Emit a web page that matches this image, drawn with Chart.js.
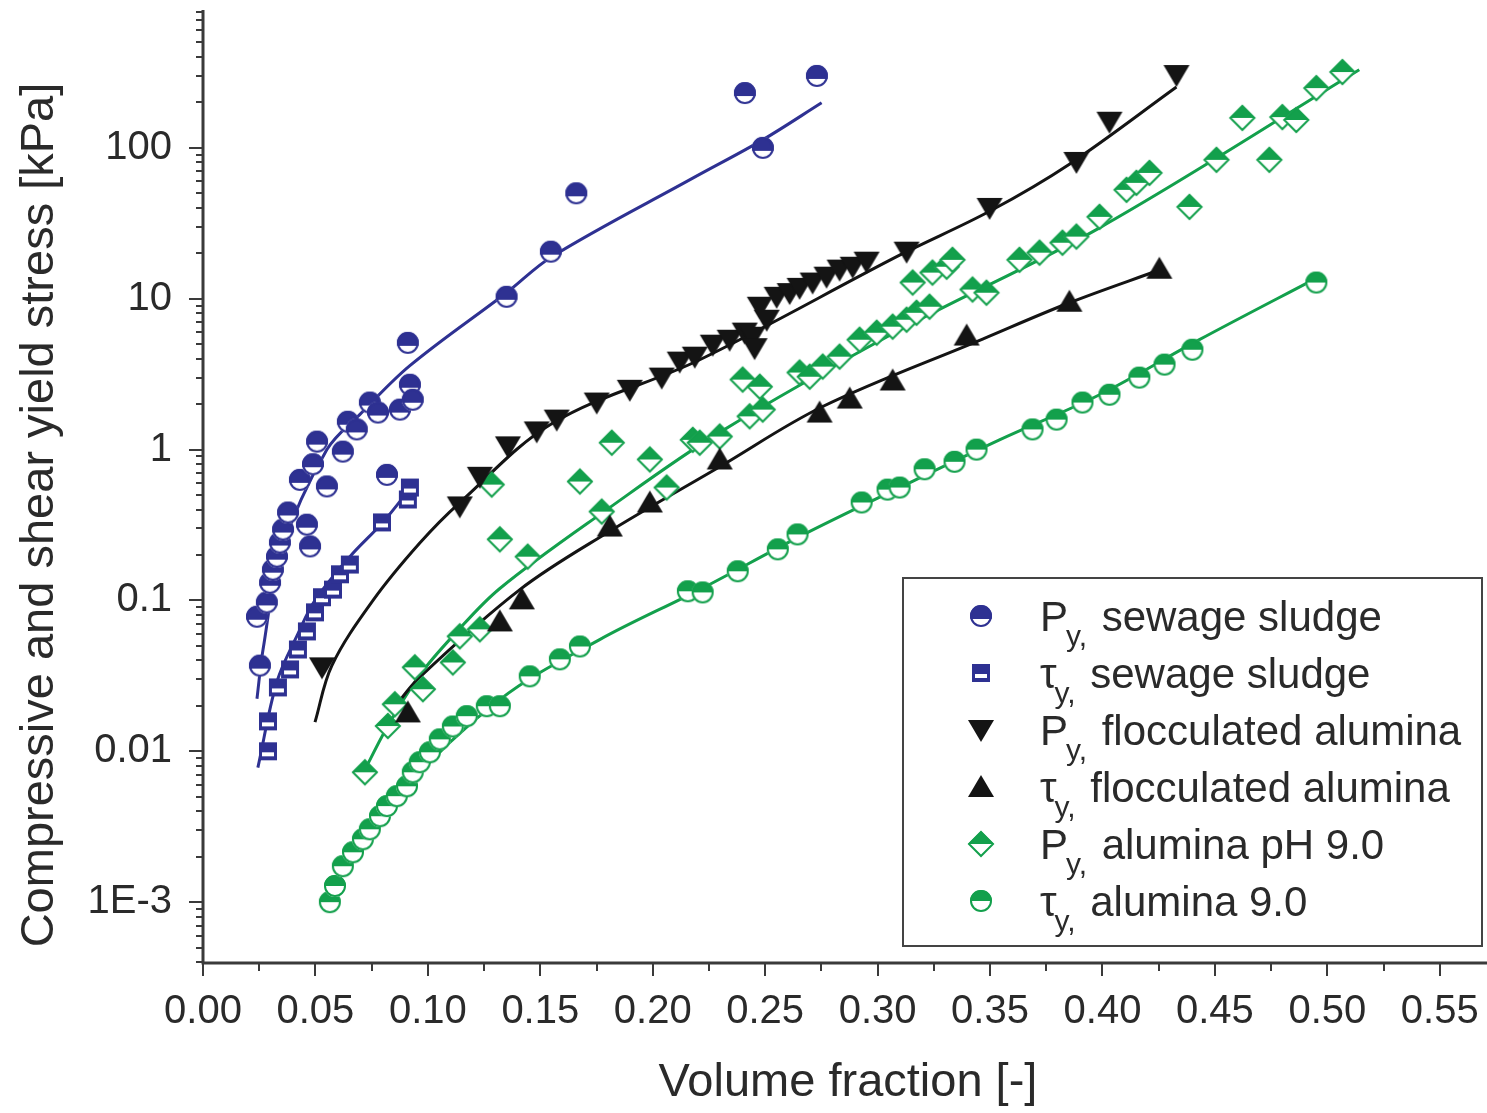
<!DOCTYPE html>
<html lang="en">
<head>
<meta charset="UTF-8">
<title>Compressive and shear yield stress vs volume fraction</title>
<script src="https://cdn.jsdelivr.net/npm/chart.js"></script>
<style>
  html, body { margin: 0; padding: 0; background: #fff; }
  #wrap { width: 1487px; height: 1113px; }
</style>
</head>
<body>
<div id="wrap"><canvas id="chart" width="1487" height="1113"></canvas></div>
<script>
// ---- axis ticks ----
const xTicks = [0, 0.05, 0.10, 0.15, 0.20, 0.25, 0.30, 0.35, 0.40, 0.45, 0.50, 0.55];
const xMinorTicks = [0.025, 0.075, 0.125, 0.175, 0.225, 0.275, 0.325, 0.375, 0.425, 0.475, 0.525];
const yTicks = [0.001, 0.01, 0.1, 1, 10, 100];
const yTickLabels = ['1E-3', '0.01', '0.1', '1', '10', '100'];

// ---- P_y sewage sludge ----
const pySludgeX = [0.024, 0.0253, 0.0284, 0.0298, 0.0311, 0.0329, 0.0342, 0.0356, 0.0378, 0.0431, 0.0462, 0.0476, 0.0489, 0.0507, 0.0551, 0.0622, 0.0644, 0.0684, 0.0742, 0.0778, 0.0818, 0.0876, 0.0911, 0.092, 0.0933, 0.135, 0.1547, 0.166, 0.241, 0.249, 0.273];
const pySludgeY = [0.078, 0.037, 0.097, 0.131, 0.16, 0.195, 0.242, 0.295, 0.383, 0.63, 0.318, 0.228, 0.80, 1.13, 0.57, 0.97, 1.53, 1.36, 2.05, 1.76, 0.68, 1.84, 5.1, 2.69, 2.14, 10.3, 20.5, 50, 231, 100, 300];
const pySludgeFitX = [0.024, 0.0267, 0.0351, 0.0551, 0.0698, 0.092, 0.1351, 0.1551, 0.2178, 0.2489, 0.2751];
const pySludgeFitY = [0.0223, 0.0473, 0.218, 1.0, 1.71, 3.6, 11.0, 19.0, 63, 113, 199];

// ---- tau_y sewage sludge ----
const tauSludgeX = [0.0289, 0.0289, 0.0333, 0.0387, 0.0422, 0.0462, 0.0498, 0.0529, 0.0578, 0.0609, 0.0653, 0.0796, 0.0911, 0.092];
const tauSludgeY = [0.0100, 0.0158, 0.0265, 0.0349, 0.0473, 0.0623, 0.0834, 0.105, 0.118, 0.149, 0.173, 0.329, 0.467, 0.56];
const tauSludgeFitX = [0.0244, 0.0329, 0.0422, 0.0498, 0.0653, 0.08, 0.092];
const tauSludgeFitY = [0.0078, 0.029, 0.06, 0.10, 0.195, 0.33, 0.55];

// ---- P_y flocculated alumina ----
const pyFlocX = [0.0529, 0.1142, 0.1231, 0.1356, 0.1484, 0.1573, 0.1751, 0.1898, 0.204, 0.212, 0.2187, 0.2267, 0.2342, 0.2409, 0.2444, 0.2453, 0.2476, 0.2507, 0.2551, 0.2609, 0.2653, 0.2711, 0.2773, 0.2831, 0.2889, 0.2951, 0.3129, 0.3498, 0.3884, 0.4031, 0.4329];
const pyFlocY = [0.036, 0.42, 0.66, 1.05, 1.32, 1.58, 2.05, 2.49, 3.0, 3.83, 4.13, 4.96, 5.35, 5.96, 5.6, 4.7, 8.85, 7.26, 10.3, 10.9, 11.8, 12.8, 14.0, 15.6, 16.3, 17.6, 20.5, 40, 80.7, 149, 304];
const pyFlocFitX = [0.0498, 0.0573, 0.0756, 0.0964, 0.1142, 0.1556, 0.2209, 0.31, 0.3498, 0.3853, 0.4329];
const pyFlocFitY = [0.0156, 0.037, 0.10, 0.24, 0.445, 1.5, 3.94, 19.5, 38, 78, 253];

// ---- tau_y flocculated alumina ----
const tauFlocX = [0.0911, 0.132, 0.1418, 0.1809, 0.1987, 0.2298, 0.2742, 0.2876, 0.3067, 0.3396, 0.3853, 0.4253];
const tauFlocY = [0.0181, 0.0726, 0.1017, 0.309, 0.446, 0.86, 1.76, 2.18, 2.87, 5.7, 9.55, 15.8];
const tauFlocFitX = [0.0844, 0.0964, 0.1409, 0.1796, 0.2298, 0.2756, 0.3467, 0.3853, 0.4253];
const tauFlocFitY = [0.019, 0.031, 0.118, 0.28, 0.77, 1.93, 5.4, 9.4, 15.5];

// ---- P_y alumina pH 9.0 ----
const pyAluX = [0.072, 0.0822, 0.0853, 0.0942, 0.0978, 0.1111, 0.1142, 0.1231, 0.1284, 0.132, 0.1444, 0.1676, 0.1773, 0.1818, 0.1987, 0.2062, 0.2178, 0.2209, 0.2298, 0.24, 0.2431, 0.2476, 0.2489, 0.2653, 0.2698, 0.2756, 0.2831, 0.292, 0.2996, 0.3067, 0.3129, 0.3173, 0.3231, 0.3156, 0.3244, 0.3307, 0.3333, 0.3422, 0.3484, 0.3631, 0.372, 0.3822, 0.3884, 0.3987, 0.4107, 0.4151, 0.4209, 0.4387, 0.4507, 0.4622, 0.4742, 0.48, 0.4862, 0.4951, 0.5067];
const pyAluY = [0.00726, 0.0147, 0.0205, 0.036, 0.0258, 0.0388, 0.0578, 0.0643, 0.586, 0.254, 0.195, 0.614, 0.388, 1.11, 0.86, 0.56, 1.16, 1.11, 1.22, 2.91, 1.66, 2.61, 1.84, 3.24, 3.04, 3.55, 4.13, 5.35, 5.95, 6.53, 7.26, 8.07, 8.85, 12.8, 14.9, 16.3, 18.1, 11.5, 10.96, 18.1, 20.2, 23.5, 25.8, 34.9, 52.7, 58.6, 68.2, 40.6, 83.3, 158, 83.3, 160, 153, 249, 318];
const pyAluFitX = [0.0698, 0.0818, 0.0964, 0.1111, 0.132, 0.1796, 0.2298, 0.3098, 0.3987, 0.5142];
const pyAluFitY = [0.0065, 0.0144, 0.032, 0.058, 0.12, 0.40, 1.30, 6.2, 29.5, 329];

// ---- tau_y alumina 9.0 ----
const tauAluX = [0.0564, 0.0587, 0.0622, 0.0667, 0.0711, 0.0742, 0.0787, 0.0818, 0.0862, 0.0907, 0.0933, 0.0964, 0.1009, 0.1053, 0.1111, 0.1173, 0.1262, 0.132, 0.1453, 0.1587, 0.1676, 0.2156, 0.2222, 0.2378, 0.2556, 0.2644, 0.2929, 0.3044, 0.3098, 0.3209, 0.3342, 0.344, 0.3689, 0.3796, 0.3911, 0.4031, 0.4164, 0.4276, 0.44, 0.4951];
const tauAluY = [0.0010, 0.00128, 0.00173, 0.00214, 0.00261, 0.00304, 0.00371, 0.00433, 0.00504, 0.00586, 0.00726, 0.00846, 0.00985, 0.012, 0.0146, 0.0171, 0.0199, 0.0199, 0.0314, 0.0407, 0.0495, 0.115, 0.113, 0.156, 0.218, 0.274, 0.446, 0.543, 0.56, 0.74, 0.83, 1.0, 1.36, 1.58, 2.05, 2.31, 3.0, 3.66, 4.59, 12.8];
const tauAluFitX = [0.0542, 0.0876, 0.132, 0.1764, 0.2209, 0.2653, 0.3098, 0.3542, 0.3987, 0.4431, 0.4956];
const tauAluFitY = [0.00105, 0.0052, 0.022, 0.055, 0.118, 0.265, 0.56, 1.16, 2.31, 5.35, 13.8];

// colours / fonts
const BLUE = '#2e3192';
const BLACK = '#141414';
const GREEN = '#13a04c';
const TEXT = '#2a2a2a';
const AXIS = '#3a3a3a';
const FONT = '"Liberation Sans", Arial, sans-serif';

// marker images
function marker(kind, color) {
    const c = document.createElement('canvas');
    c.width = 30; c.height = 30;
    const g = c.getContext('2d');
    const m = 15;
    g.lineWidth = 2;
    g.strokeStyle = color;
    g.fillStyle = color;
    if (kind === 'circle' || kind === 'hex') {
        const r = 11;
        const cut = kind === 'circle' ? m + 3 : m;
        g.fillStyle = '#fff';
        g.beginPath(); g.arc(m, m, r, 0, Math.PI * 2); g.fill();
        g.save();
        g.beginPath(); g.rect(0, 0, 30, cut); g.clip();
        g.fillStyle = color;
        g.beginPath(); g.arc(m, m, r, 0, Math.PI * 2); g.fill();
        g.restore();
        g.beginPath(); g.arc(m, m, r - 1, 0, Math.PI * 2); g.stroke();
    } else if (kind === 'square') {
        g.fillRect(m - 9, m - 9, 18, 18);
        g.fillStyle = '#fff';
        g.fillRect(m - 6, m + 1, 12, 4);
    } else if (kind === 'down') {
        g.beginPath(); g.moveTo(m - 13, m - 10); g.lineTo(m + 13, m - 10); g.lineTo(m, m + 12); g.closePath(); g.fill();
    } else if (kind === 'up') {
        g.beginPath(); g.moveTo(m - 13, m + 10); g.lineTo(m + 13, m + 10); g.lineTo(m, m - 12); g.closePath(); g.fill();
    } else if (kind === 'diamond') {
        g.fillStyle = '#fff';
        g.beginPath(); g.moveTo(m, m - 13); g.lineTo(m + 13, m); g.lineTo(m, m + 13); g.lineTo(m - 13, m); g.closePath(); g.fill();
        g.fillStyle = color;
        g.beginPath(); g.moveTo(m, m - 13); g.lineTo(m + 13, m); g.lineTo(m - 13, m); g.closePath(); g.fill();
        g.beginPath(); g.moveTo(m, m - 12); g.lineTo(m + 12, m); g.lineTo(m, m + 12); g.lineTo(m - 12, m); g.closePath(); g.stroke();
    }
    return c;
}

const mCircle = marker('circle', BLUE);
const mSquare = marker('square', BLUE);
const mDown = marker('down', BLACK);
const mUp = marker('up', BLACK);
const mDiamond = marker('diamond', GREEN);
const mHex = marker('hex', GREEN);

function pts(xs, ys) {
    return xs.map((x, i) => ({ x: x, y: ys[i] }));
}

function fitSet(xs, ys, color) {
    return {
        data: pts(xs, ys),
        showLine: true,
        borderColor: color,
        borderWidth: 3,
        pointRadius: 0,
        tension: 0.35,
        fill: false,
        order: 2
    };
}

function markSet(xs, ys, img) {
    return {
        data: pts(xs, ys),
        showLine: false,
        pointStyle: img,
        pointRadius: 11,
        order: 1
    };
}

// legend rows: marker, main symbol, rest of text
const legendRows = [
    [mCircle, 'P', ' sewage sludge'],
    [mSquare, '\u03c4', ' sewage sludge'],
    [mDown, 'P', ' flocculated alumina'],
    [mUp, '\u03c4', ' flocculated alumina'],
    [mDiamond, 'P', ' alumina pH 9.0'],
    [mHex, '\u03c4', ' alumina 9.0']
];

const framePlugin = {
    id: 'frame',
    beforeDatasetsDraw(chart) {
        const { ctx, chartArea: a, scales: { x, y } } = chart;
        ctx.save();
        ctx.strokeStyle = AXIS;
        ctx.lineWidth = 3;
        ctx.beginPath();
        ctx.moveTo(a.left, a.top);
        ctx.lineTo(a.left, a.bottom);
        ctx.lineTo(chart.width, a.bottom);
        ctx.stroke();

        ctx.lineWidth = 2;
        ctx.beginPath();
        xTicks.forEach(v => {
            const px = Math.round(x.getPixelForValue(v));
            ctx.moveTo(px, a.bottom); ctx.lineTo(px, a.bottom + 13);
        });
        xMinorTicks.forEach(v => {
            const px = Math.round(x.getPixelForValue(v));
            ctx.moveTo(px, a.bottom); ctx.lineTo(px, a.bottom + 8);
        });
        for (let e = -4; e <= 2; e++) {
            for (let k = 1; k <= 9; k++) {
                const v = k * Math.pow(10, e);
                if (v < y.min || v > y.max) continue;
                const py = Math.round(y.getPixelForValue(v));
                ctx.moveTo(a.left, py); ctx.lineTo(a.left - (k === 1 ? 14 : 7), py);
            }
        }
        ctx.stroke();
        ctx.restore();
    },
    afterDraw(chart) {
        const { ctx } = chart;
        ctx.save();
        ctx.fillStyle = TEXT;

        // axis titles
        ctx.font = '47px ' + FONT;
        ctx.textAlign = 'center';
        ctx.textBaseline = 'middle';
        ctx.fillText('Volume fraction [-]', 848, 1083);
        ctx.save();
        ctx.translate(40, 515);
        ctx.rotate(-Math.PI / 2);
        ctx.fillText('Compressive and shear yield stress [kPa]', 0, 0);
        ctx.restore();

        // legend box
        ctx.strokeStyle = '#444';
        ctx.lineWidth = 2;
        ctx.fillStyle = '#fff';
        ctx.fillRect(903, 578, 579, 368);
        ctx.strokeRect(903, 578, 579, 368);

        ctx.textAlign = 'left';
        ctx.textBaseline = 'alphabetic';
        ctx.fillStyle = TEXT;
        legendRows.forEach((row, i) => {
            const cy = 616 + i * 57;
            ctx.drawImage(row[0], 981 - 15, cy - 15);
            const base = cy + 15;
            ctx.font = '42px ' + FONT;
            ctx.fillText(row[1], 1040, base);
            const w = ctx.measureText(row[1]).width;
            ctx.font = '30px ' + FONT;
            ctx.fillText('y,', 1040 + w - 2, base + 15);
            ctx.font = '42px ' + FONT;
            ctx.fillText(row[2], 1040 + w + 22, base);
        });
        ctx.restore();
    }
};

new Chart(document.getElementById('chart'), {
    type: 'scatter',
    data: {
        datasets: [
            fitSet(pySludgeFitX, pySludgeFitY, BLUE),
            fitSet(tauSludgeFitX, tauSludgeFitY, BLUE),
            fitSet(pyFlocFitX, pyFlocFitY, BLACK),
            fitSet(tauFlocFitX, tauFlocFitY, BLACK),
            fitSet(pyAluFitX, pyAluFitY, GREEN),
            fitSet(tauAluFitX, tauAluFitY, GREEN),
            markSet(pySludgeX, pySludgeY, mCircle),
            markSet(tauSludgeX, tauSludgeY, mSquare),
            markSet(pyFlocX, pyFlocY, mDown),
            markSet(tauFlocX, tauFlocY, mUp),
            markSet(pyAluX, pyAluY, mDiamond),
            markSet(tauAluX, tauAluY, mHex)
        ]
    },
    options: {
        responsive: false,
        animation: false,
        devicePixelRatio: 1,
        layout: { autoPadding: false, padding: { top: 10, right: 0, left: 0, bottom: 0 } },
        plugins: {
            legend: { display: false },
            tooltip: { enabled: false }
        },
        scales: {
            x: {
                type: 'linear',
                min: 0,
                max: 0.571,
                afterBuildTicks: s => { s.ticks = xTicks.map(v => ({ value: v })); },
                afterFit: s => { s.height = 150; s.paddingLeft = 0; s.paddingRight = 0; },
                grid: { display: false, drawTicks: true, tickLength: 13 },
                border: { display: false },
                ticks: {
                    color: TEXT,
                    font: { family: FONT, size: 40 },
                    padding: 12,
                    maxRotation: 0,
                    autoSkip: false,
                    callback: v => v.toFixed(2)
                }
            },
            y: {
                type: 'logarithmic',
                min: 3.95e-4,
                max: 820,
                afterBuildTicks: s => { s.ticks = yTicks.map(v => ({ value: v })); },
                afterFit: s => { s.width = 203; s.paddingTop = 0; s.paddingBottom = 0; },
                grid: { display: false, drawTicks: true, tickLength: 14 },
                border: { display: false },
                ticks: {
                    color: TEXT,
                    font: { family: FONT, size: 40 },
                    padding: 17,
                    autoSkip: false,
                    callback: (v, i) => yTickLabels[i]
                }
            }
        }
    },
    plugins: [framePlugin]
});
</script>
</body>
</html>
